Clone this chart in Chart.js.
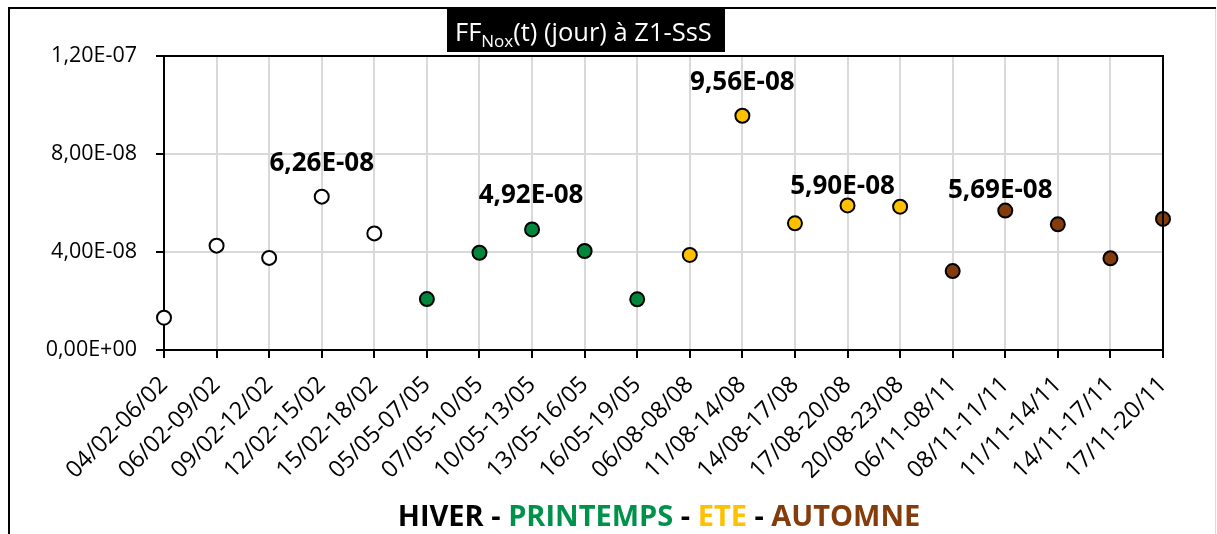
<!DOCTYPE html>
<html>
<head>
<meta charset="utf-8">
<script src="https://cdn.jsdelivr.net/npm/chart.js@4.4.1/dist/chart.umd.min.js"></script>
<style>
  html, body { margin: 0; padding: 0; background: #fff; }
  #wrap { position: absolute; left: 0; top: 0; width: 1217px; height: 534px; }
</style>
</head>
<body>
<div id="wrap"><canvas id="myChart" width="1217" height="534"></canvas></div>
<script>
const periods = [
    '04/02-06/02', '06/02-09/02', '09/02-12/02', '12/02-15/02', '15/02-18/02',
    '05/05-07/05', '07/05-10/05', '10/05-13/05', '13/05-16/05', '16/05-19/05',
    '06/08-08/08', '11/08-14/08', '14/08-17/08', '17/08-20/08', '20/08-23/08',
    '06/11-08/11', '08/11-11/11', '11/11-14/11', '14/11-17/11', '17/11-20/11'
];
const hiver = [1.32e-8, 4.26e-8, 3.76e-8, 6.26e-8, 4.76e-8];
const printemps = [2.08e-8, 3.97e-8, 4.92e-8, 4.04e-8, 2.07e-8];
const ete = [3.88e-8, 9.56e-8, 5.17e-8, 5.90e-8, 5.85e-8];
const automne = [3.22e-8, 5.69e-8, 5.13e-8, 3.74e-8, 5.35e-8];
// periods whose value is written above the point
const labeledPeriods = ['12/02-15/02', '10/05-13/05', '11/08-14/08', '17/08-20/08', '08/11-11/11'];

const seasons = [
    { name: 'HIVER', values: hiver, fill: '#ffffff', text: '#000000' },
    { name: 'PRINTEMPS', values: printemps, fill: '#00873c', text: '#00924a' },
    { name: 'ETE', values: ete, fill: '#ffc000', text: '#ffc000' },
    { name: 'AUTOMNE', values: automne, fill: '#843c0c', text: '#843c0c' }
];

const allValues = [];
const pointColors = [];
seasons.forEach(function(s) {
    s.values.forEach(function(v) {
        allValues.push(v);
        pointColors.push(s.fill);
    });
});

// "1,20E-07" style
function fmtExp(v) {
    const parts = Number(v).toExponential(2).split('e');
    const mant = parts[0].replace('.', ',');
    let exp = parseInt(parts[1], 10);
    const sign = exp < 0 ? '-' : '+';
    exp = Math.abs(exp);
    return mant + 'E' + sign + (exp < 10 ? '0' + exp : '' + exp);
}

const FONT = "'Open Sans', 'DejaVu Sans', sans-serif";
Chart.defaults.font.family = FONT;
Chart.defaults.color = '#000';

const framePlugin = {
    id: 'frame',
    beforeDraw(chart) {
        const ctx = chart.ctx;
        ctx.save();
        ctx.fillStyle = '#fff';
        ctx.fillRect(0, 0, chart.width, chart.height);
        // outer frame
        ctx.strokeStyle = '#d9d9d9';
        ctx.lineWidth = 1;
        ctx.beginPath();
        ctx.moveTo(1215.5, 8);
        ctx.lineTo(1215.5, chart.height);
        ctx.stroke();
        ctx.strokeStyle = '#000';
        ctx.lineWidth = 2;
        ctx.beginPath();
        ctx.moveTo(9, chart.height);
        ctx.lineTo(9, 8);
        ctx.lineTo(1216, 8);
        ctx.stroke();
        ctx.restore();
    },
    afterDraw(chart) {
        const ctx = chart.ctx;
        const a = chart.chartArea;
        ctx.save();
        // top and right border of the plot area
        ctx.strokeStyle = '#000';
        ctx.lineWidth = 2;
        ctx.beginPath();
        ctx.moveTo(a.left, a.top);
        ctx.lineTo(a.right, a.top);
        ctx.lineTo(a.right, a.bottom);
        ctx.stroke();

        // title box
        const bx = 447, by = 7, bw = 278, bh = 45;
        ctx.fillStyle = '#000';
        ctx.fillRect(bx, by, bw, bh);
        ctx.fillStyle = '#fff';
        ctx.textBaseline = 'alphabetic';
        ctx.textAlign = 'left';
        let x = bx + 8;
        const base = by + 34;
        ctx.font = '25.5px ' + FONT;
        ctx.fillText('FF', x, base);
        x += ctx.measureText('FF').width;
        ctx.font = '17px ' + FONT;
        ctx.fillText('Nox', x, base + 6);
        x += ctx.measureText('Nox').width;
        ctx.font = '25.5px ' + FONT;
        ctx.fillText('(t) (jour) à Z1-SsS', x, base);

        // bottom title with season colors
        ctx.font = 'bold 29px ' + FONT;
        const pieces = [];
        seasons.forEach(function(s, i) {
            if (i > 0) pieces.push({ t: ' - ', c: '#000' });
            pieces.push({ t: s.name, c: s.text });
        });
        let total = 0;
        pieces.forEach(function(p) { total += ctx.measureText(p.t).width; });
        let tx = 659 - total / 2;
        pieces.forEach(function(p) {
            ctx.fillStyle = p.c;
            ctx.fillText(p.t, tx, 526);
            tx += ctx.measureText(p.t).width;
        });
        ctx.restore();
    },
    afterDatasetsDraw(chart) {
        const ctx = chart.ctx;
        const meta = chart.getDatasetMeta(0);
        // label nudges (dx, dy) like the hand-placed labels of the original
        const nudges = [[0, -33], [-1, -34], [0, -33], [-5, -19], [-5, -20]];
        ctx.save();
        ctx.font = 'bold 26px ' + FONT;
        ctx.fillStyle = '#000';
        ctx.textAlign = 'center';
        ctx.textBaseline = 'middle';
        labeledPeriods.forEach(function(p, k) {
            const i = periods.indexOf(p);
            const pt = meta.data[i];
            ctx.fillText(fmtExp(allValues[i]), pt.x + nudges[k][0], pt.y + nudges[k][1]);
        });
        ctx.restore();
    }
};

const config = {
    type: 'line',
    data: {
        labels: periods,
        datasets: [{
            label: 'FFNox',
            data: allValues,
            showLine: false,
            pointRadius: 7,
            pointHoverRadius: 7,
            pointBorderWidth: 2,
            pointBorderColor: '#000',
            pointBackgroundColor: pointColors
        }]
    },
    options: {
        responsive: false,
        animation: false,
        layout: { padding: { top: 56, right: 54, left: 0, bottom: 0 } },
        plugins: {
            legend: { display: false },
            tooltip: { enabled: false },
            title: { display: false }
        },
        scales: {
            x: {
                offset: false,
                grid: { color: '#d9d9d9', lineWidth: 2, tickLength: 8, tickColor: '#000', tickWidth: 2 },
                border: { color: '#000', width: 2 },
                ticks: { minRotation: 45, maxRotation: 45, autoSkip: false, padding: 13, color: '#000', font: { size: 23.5 } },
                afterFit(scale) { scale.height = 184; }
            },
            y: {
                min: 0,
                max: 1.2e-7,
                grid: { color: '#d9d9d9', lineWidth: 2, tickLength: 8, tickColor: '#000', tickWidth: 2 },
                border: { color: '#000', width: 2 },
                ticks: {
                    stepSize: 4e-8,
                    padding: 19,
                    color: '#000',
                    font: { size: 21.5 },
                    callback: function(v) { return fmtExp(v); }
                },
                afterFit(scale) { scale.width = 164; }
            }
        }
    },
    plugins: [framePlugin]
};

const ctx = document.getElementById('myChart').getContext('2d');
new Chart(ctx, config);
</script>
</body>
</html>
